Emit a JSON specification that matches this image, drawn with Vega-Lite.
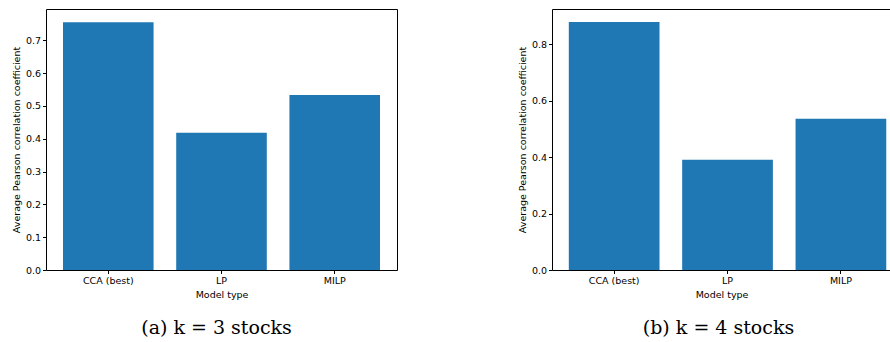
{
  "$schema": "https://vega.github.io/schema/vega-lite/v6.json",
  "padding": {"left": 10, "top": 8, "right": 0, "bottom": 0},
  "spacing": 118,
  "config": {
    "view": {"stroke": "#000", "strokeWidth": 1},
    "axis": {
      "domainColor": "#000", "tickColor": "#000", "labelColor": "#000", "titleColor": "#000",
      "labelFont": "DejaVu Sans", "titleFont": "DejaVu Sans", "labelFontSize": 9.5, "titleFontSize": 9.5,
      "titleFontWeight": "normal", "tickSize": 3.5, "labelPadding": 2, "grid": false, "titlePadding": 4
    },
    "title": {"font": "DejaVu Serif", "fontSize": 19, "fontWeight": "normal", "color": "#000", "orient": "bottom", "frame": "group", "offset": 20}
  },
  "hconcat": [
    {
      "width": 351,
      "height": 261,
      "title": {"text": "(a) k = 3 stocks", "dx": -5},
      "data": {"values": [
        {"model": "CCA (best)", "value": 0.755},
        {"model": "LP", "value": 0.418},
        {"model": "MILP", "value": 0.533}
      ]},
      "mark": {"type": "bar", "color": "#1f77b4"},
      "encoding": {
        "x": {"field": "model", "type": "nominal", "sort": null, "title": "Model type",
              "scale": {"paddingInner": 0.2, "paddingOuter": 0.15},
              "axis": {"labelAngle": 0, "domain": false}},
        "y": {"field": "value", "type": "quantitative", "title": "Average Pearson correlation coefficient",
              "scale": {"domain": [0, 0.795], "nice": false},
              "axis": {"values": [0, 0.1, 0.2, 0.3, 0.4, 0.5, 0.6, 0.7], "format": ".1f", "domain": false}}
      }
    },
    {
      "width": 339,
      "height": 261,
      "title": {"text": "(b) k = 4 stocks", "dx": -3},
      "data": {"values": [
        {"model": "CCA (best)", "value": 0.879},
        {"model": "LP", "value": 0.391},
        {"model": "MILP", "value": 0.536}
      ]},
      "mark": {"type": "bar", "color": "#1f77b4"},
      "encoding": {
        "x": {"field": "model", "type": "nominal", "sort": null, "title": "Model type",
              "scale": {"paddingInner": 0.2, "paddingOuter": 0.095, "align": 0.78},
              "axis": {"labelAngle": 0, "domain": false}},
        "y": {"field": "value", "type": "quantitative", "title": "Average Pearson correlation coefficient",
              "scale": {"domain": [0, 0.925], "nice": false},
              "axis": {"values": [0, 0.2, 0.4, 0.6, 0.8], "format": ".1f", "domain": false}}
      }
    }
  ]
}
